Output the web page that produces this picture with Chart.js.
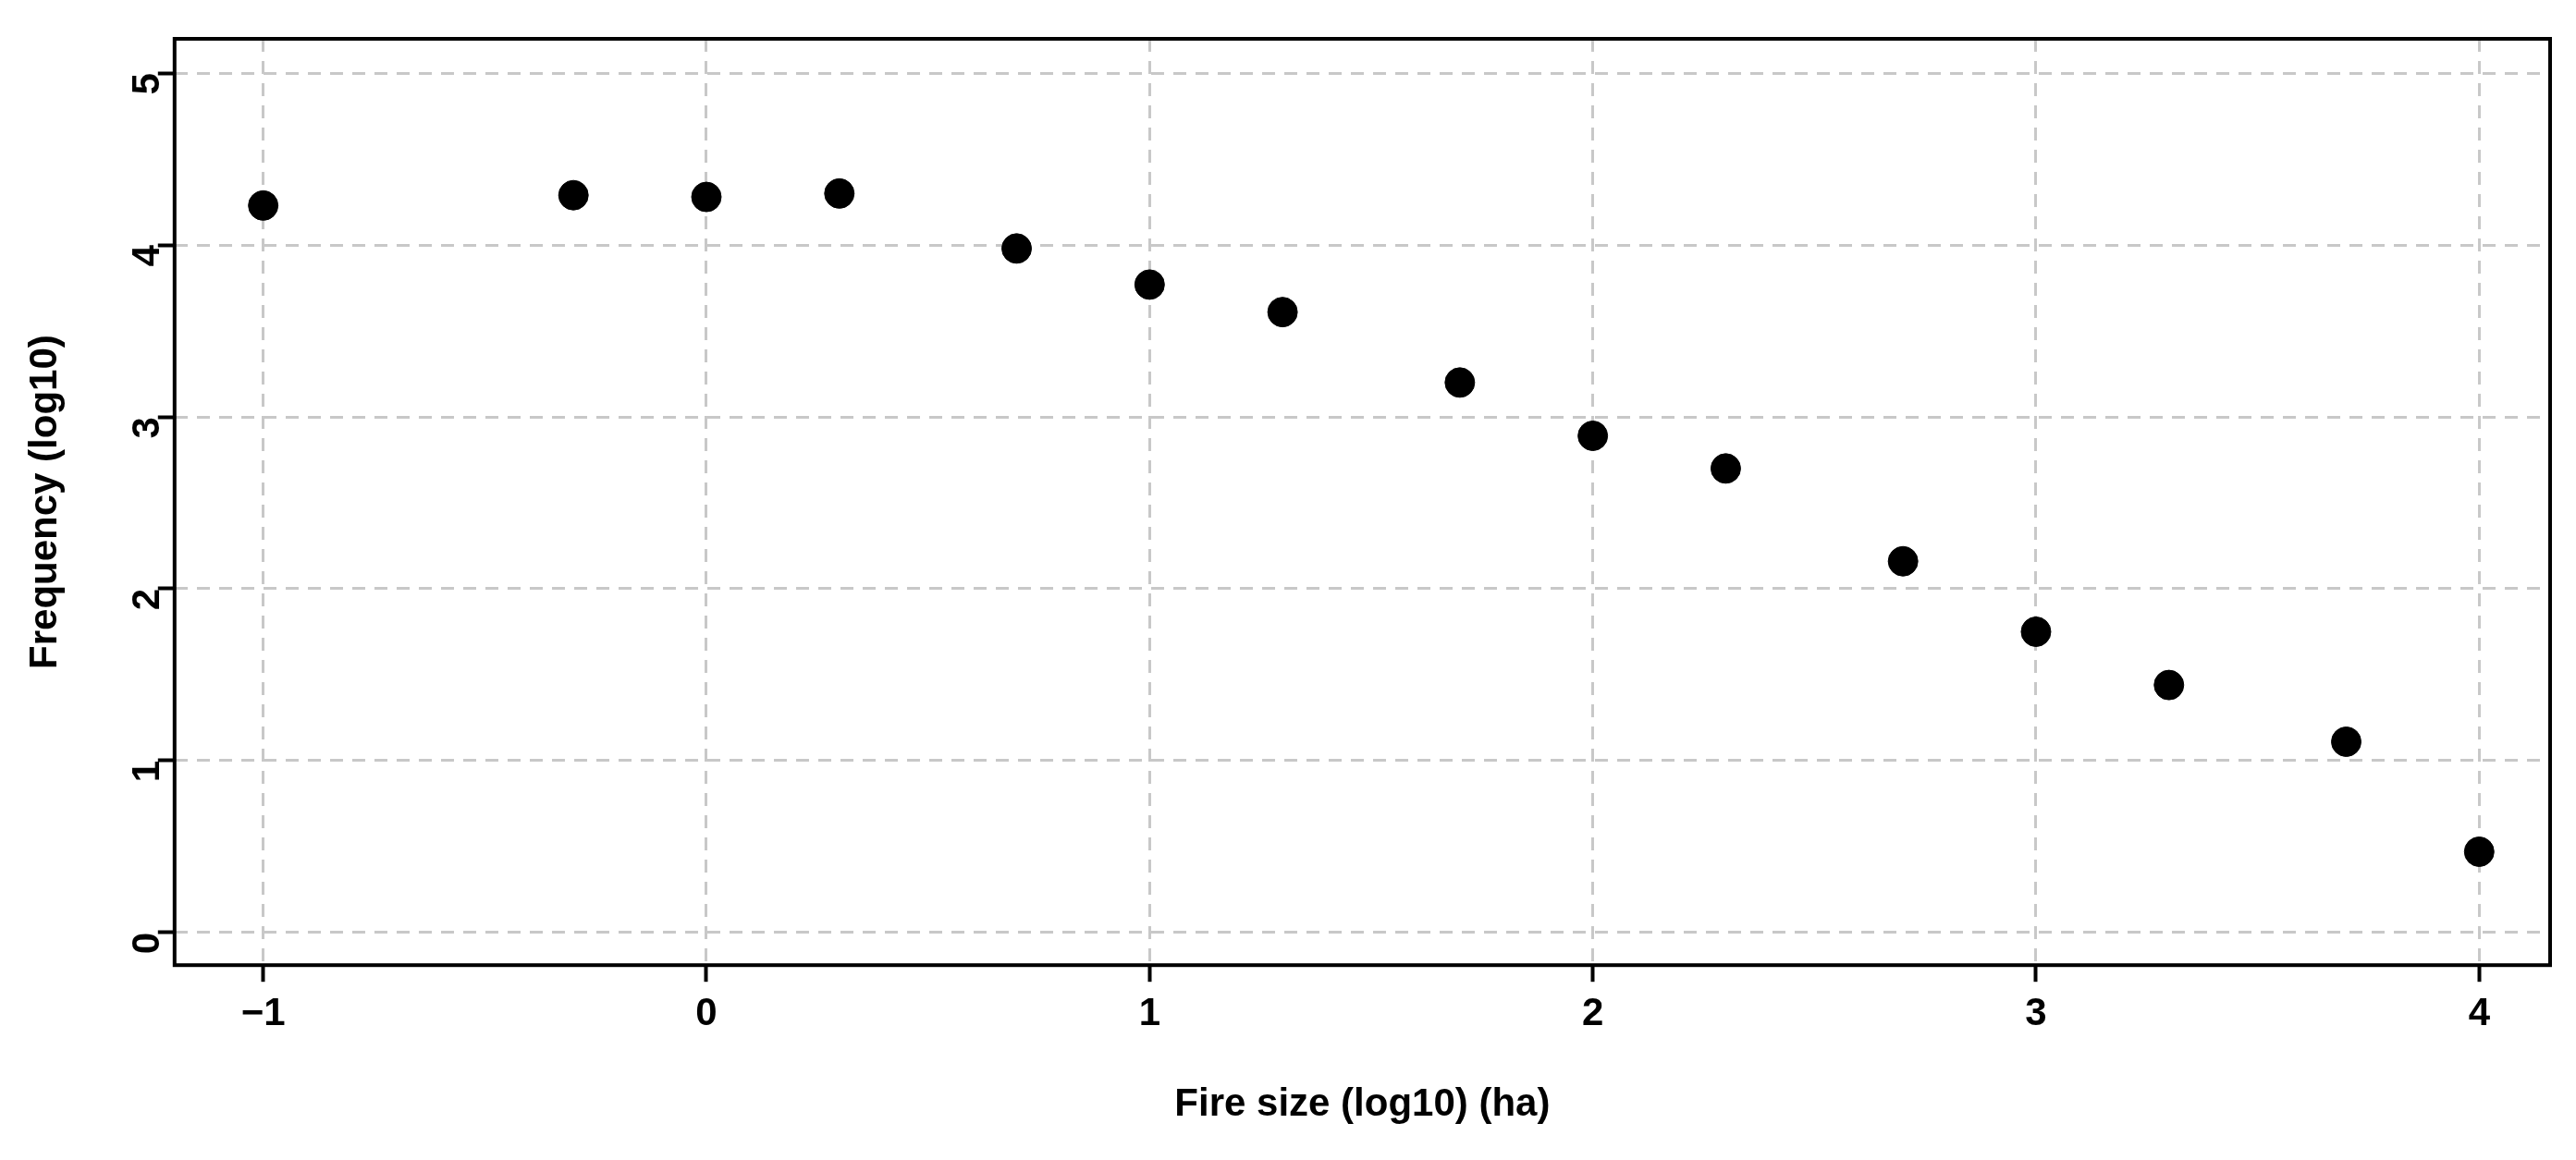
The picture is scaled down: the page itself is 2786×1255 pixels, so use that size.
<!DOCTYPE html>
<html><head><meta charset="utf-8">
<script src="https://cdn.jsdelivr.net/npm/chart.js@4/dist/chart.umd.min.js"></script>
<style>html,body{margin:0;background:#fff}#wrap{width:2786px;height:1255px}</style>
</head><body><div id="wrap"><canvas id="c"></canvas></div>
<script>
const fireSize = [-1, -0.3, 0, 0.3, 0.7, 1, 1.3, 1.7, 2, 2.3, 2.7, 3, 3.3, 3.7, 4];
const frequency = [4.23, 4.29, 4.28, 4.30, 3.98, 3.77, 3.61, 3.20, 2.89, 2.70, 2.16, 1.75, 1.44, 1.11, 0.47];
const xTicks = [-1, 0, 1, 2, 3, 4];
const yTicks = [0, 1, 2, 3, 4, 5];

const FONT = {family: "Liberation Sans, Arial", weight: "bold", size: 42};
const keep = list => axis => { axis.ticks = list.map(v => ({value: v})); };
const minus = v => String(v).replace("-", "\u2212");

// box around the plot area
const frame = {
  id: "frame",
  afterDraw(ch) {
    const a = ch.chartArea, g = ch.ctx;
    g.save(); g.strokeStyle = "#000"; g.lineWidth = 4;
    g.strokeRect(a.left, a.top, a.right - a.left, a.bottom - a.top);
    g.restore();
  }
};

const grid = {color: "#c8c8c8", lineWidth: 3, tickColor: "#000", tickLength: 18, tickBorderDash: [], tickWidth: 4};

new Chart(document.getElementById("c"), {
  type: "scatter",
  data: {datasets: [{
    data: fireSize.map((x, i) => ({x, y: frequency[i]})),
    backgroundColor: "#000", borderColor: "#000", pointRadius: 16
  }]},
  options: {
    responsive: true, maintainAspectRatio: false, animation: false,
    layout: {padding: {top: 42, right: 28, left: 10, bottom: 0}},
    plugins: {legend: {display: false}, tooltip: {enabled: false}},
    scales: {
      x: {
        type: "linear", min: -1.2, max: 4.16,
        afterBuildTicks: keep(xTicks),
        border: {display: false, dash: [14, 10]},
        grid,
        ticks: {color: "#000", font: FONT, padding: 10, maxRotation: 0, callback: minus},
        title: {display: true, text: "Fire size (log10) (ha)", color: "#000", font: FONT, padding: {top: 38, bottom: 34}}
      },
      y: {
        type: "linear", min: -0.19, max: 5.2,
        afterBuildTicks: keep(yTicks),
        border: {display: false, dash: [14, 10]},
        grid,
        ticks: {color: "#000", font: FONT, padding: 10, minRotation: 90, maxRotation: 90},
        title: {display: true, text: "Frequency (log10)", color: "#000", font: FONT, padding: {top: 14, bottom: 26}}
      }
    }
  },
  plugins: [frame]
});
</script></body></html>
